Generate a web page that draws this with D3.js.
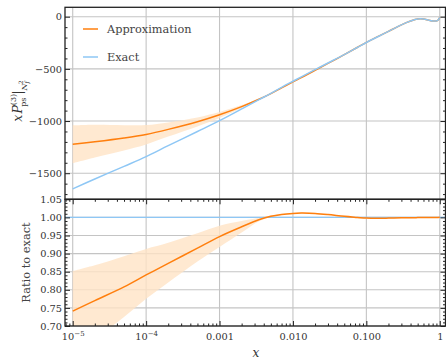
<!DOCTYPE html>
<html>
<head>
<meta charset="utf-8">
<script src="https://cdn.jsdelivr.net/npm/d3@7"></script>
<style>
  body { margin: 0; background: #fff; }
  svg { display: block; }
  svg text { font-family: "DejaVu Serif", serif; }
</style>
</head>
<body>
<div id="chart"></div>
<script>
// x grid of the sampled curves
const xs = [1e-5, 2e-5, 5e-5, 1e-4, 2e-4, 5e-4, 1e-3, 2e-3, 3.5e-3, 5e-3, 7e-3, 0.01, 0.013, 0.02, 0.03,
  0.05, 0.075, 0.1, 0.15, 0.2, 0.3, 0.4, 0.5, 0.6, 0.7, 0.8, 0.9, 0.95, 1];

const exact = [-1650, -1555, -1434, -1341, -1236, -1100, -996, -884, -793, -735, -677, -619, -577, -508, -444,
  -363, -295, -247, -185, -140, -78, -42, -22, -22, -32, -41, -41, -32, -6];
const approx = [-1222, -1198, -1162, -1128, -1080, -1007, -940, -862, -789, -737, -682, -625, -584, -513, -448,
  -364, -295, -246, -184, -140, -78, -42, -22, -22, -32, -41, -41, -32, -6];
const approxLo = [-1405, -1350, -1282, -1224, -1149, -1052, -971, -875, -793, -740, -684, -627, -586, -515, -449,
  -365, -296, -247, -185, -141, -78, -42, -22, -22, -32, -41, -41, -32, -6];
const approxHi = [-1042, -1036, -1040, -1039, -1013, -966, -914, -847, -786, -734, -680, -623, -582, -511, -446,
  -362, -294, -245, -183, -139, -77, -42, -22, -22, -32, -41, -41, -32, -6];

const ratio = [0.741, 0.770, 0.808, 0.841, 0.873, 0.915, 0.947, 0.974, 0.994, 1.003, 1.008, 1.011, 1.012, 1.011, 1.008,
  1.003, 1.000, 0.998, 0.9975, 0.998, 0.999, 0.999, 0.9995, 1.0, 1.0, 1.0, 1.0, 1.0, 1.0005];
const ratioLo = [0.629, 0.665, 0.725, 0.775, 0.820, 0.878, 0.918, 0.958, 0.990, 1.001, 1.0065, 1.0095, 1.0105, 1.0095, 1.0065,
  1.0015, 0.9985, 0.9965, 0.996, 0.9965, 0.9975, 0.9975, 0.998, 0.9985, 0.9985, 0.9985, 0.9985, 0.9985, 0.999];
const ratioHi = [0.852, 0.868, 0.893, 0.913, 0.930, 0.956, 0.977, 0.990, 0.999, 1.005, 1.0095, 1.0125, 1.0135, 1.0125, 1.0095,
  1.0045, 1.0015, 0.9995, 0.999, 0.9995, 1.0005, 1.0005, 1.001, 1.0015, 1.0015, 1.0015, 1.0015, 1.0015, 1.002];

const xTickVals = [1e-5, 1e-4, 1e-3, 1e-2, 1e-1, 1];
const xTickLabels = [["10", "\u22125"], ["10", "\u22124"], ["0.001"], ["0.010"], ["0.100"], ["1"]];
const yTopTicks = [0, -500, -1000, -1500];
const yBotTicks = [0.70, 0.75, 0.80, 0.85, 0.90, 0.95, 1.00, 1.05];

const orange = "#ff7f0e", blue = "#8ec7f5", band = "#ffe3c6";

const W = 446, H = 361;
const L = 65, R = 445.5, T = 7.3, M = 199.3, B = 326;
const serif = "DejaVu Serif";
const tickFont = 9.8;

const svg = d3.select("#chart").append("svg").attr("width", W).attr("height", H);

const x = d3.scaleLog().domain([7.85e-6, 1.197]).range([L, R]);
const yT = d3.scaleLinear().domain([-1750, 90]).range([M, T]);
const yB = d3.scaleLinear().domain([0.70, 1.05]).range([B, M]);

const defs = svg.append("defs");
defs.append("clipPath").attr("id", "clipT").append("rect").attr("x", L).attr("y", T).attr("width", R - L).attr("height", M - T);
defs.append("clipPath").attr("id", "clipB").append("rect").attr("x", L).attr("y", M).attr("width", R - L).attr("height", B - M);

// minor log ticks
const minorX = [];
for (let d = -6; d <= 0; d++) for (let k = 2; k <= 9; k++) {
  const v = k * Math.pow(10, d);
  if (v > x.domain()[0] && v < x.domain()[1]) minorX.push(v);
}

// grid
const grid = svg.append("g").attr("stroke", "#c4c4c4").attr("stroke-width", 1.1);
xTickVals.forEach(v => {
  grid.append("line").attr("x1", x(v)).attr("x2", x(v)).attr("y1", T).attr("y2", B);
});
yTopTicks.forEach(v => {
  grid.append("line").attr("x1", L).attr("x2", R).attr("y1", yT(v)).attr("y2", yT(v));
});
yBotTicks.forEach(v => {
  grid.append("line").attr("x1", L).attr("x2", R).attr("y1", yB(v)).attr("y2", yB(v));
});

const pts = xs.map((d, i) => i);
const curve = d3.curveCatmullRom.alpha(0.5);
const lineOf = (arr, y) => d3.line().x(i => x(xs[i])).y(i => y(arr[i])).curve(curve);
const areaOf = (lo, hi, y) => d3.area().x(i => x(xs[i])).y0(i => y(lo[i])).y1(i => y(hi[i])).curve(curve);

// top panel
const gT = svg.append("g").attr("clip-path", "url(#clipT)");
gT.append("path").datum(pts).attr("d", areaOf(approxLo, approxHi, yT)).attr("fill", band).attr("opacity", 0.8);
gT.append("path").datum(pts).attr("d", lineOf(approx, yT)).attr("fill", "none").attr("stroke", orange).attr("stroke-width", 1.5);
gT.append("path").datum(pts).attr("d", lineOf(exact, yT)).attr("fill", "none").attr("stroke", blue).attr("stroke-width", 1.5);

// bottom panel
const gB = svg.append("g").attr("clip-path", "url(#clipB)");
gB.append("path").datum(pts).attr("d", areaOf(ratioLo, ratioHi, yB)).attr("fill", band).attr("opacity", 0.8);
gB.append("line").attr("x1", L).attr("x2", R).attr("y1", yB(1)).attr("y2", yB(1)).attr("stroke", blue).attr("stroke-width", 1.3);
gB.append("path").datum(pts).attr("d", lineOf(ratio, yB)).attr("fill", "none").attr("stroke", orange).attr("stroke-width", 1.5);

// axes
const tickStyle = g => {
  g.attr("font-family", serif);
  g.select(".domain").remove();
  g.selectAll("line").attr("stroke", "#222").attr("stroke-width", 1);
  g.selectAll("text").attr("font-size", tickFont).attr("fill", "#333");
};

svg.append("g").attr("transform", `translate(${L},0)`)
  .call(d3.axisLeft(yT).tickValues(yTopTicks).tickSize(-5).tickPadding(3)
    .tickFormat(d => d === 0 ? "0" : "\u2212" + Math.abs(d)))
  .call(tickStyle);
svg.append("g").attr("transform", `translate(${L},0)`)
  .call(d3.axisLeft(yT).tickValues(d3.range(-1700, 1, 100).filter(v => v % 500 !== 0)).tickSize(-2.5).tickFormat(""))
  .call(tickStyle);
svg.append("g").attr("transform", `translate(${R},0)`)
  .call(d3.axisRight(yT).tickValues(yTopTicks).tickSize(-5).tickFormat(""))
  .call(tickStyle);
svg.append("g").attr("transform", `translate(${R},0)`)
  .call(d3.axisRight(yT).tickValues(d3.range(-1700, 1, 100).filter(v => v % 500 !== 0)).tickSize(-2.5).tickFormat(""))
  .call(tickStyle);

const botMinor = d3.range(70, 106, 1).map(v => v / 100).filter(v => Math.round(v * 100) % 5 !== 0);
svg.append("g").attr("transform", `translate(${L},0)`)
  .call(d3.axisLeft(yB).tickValues(yBotTicks).tickSize(-5).tickPadding(3).tickFormat(d3.format(".2f")))
  .call(tickStyle);
svg.append("g").attr("transform", `translate(${L},0)`)
  .call(d3.axisLeft(yB).tickValues(botMinor).tickSize(-2.5).tickFormat(""))
  .call(tickStyle);
svg.append("g").attr("transform", `translate(${R},0)`)
  .call(d3.axisRight(yB).tickValues(yBotTicks).tickSize(-5).tickFormat(""))
  .call(tickStyle);
svg.append("g").attr("transform", `translate(${R},0)`)
  .call(d3.axisRight(yB).tickValues(botMinor).tickSize(-2.5).tickFormat(""))
  .call(tickStyle);

// x axis, bottom and top of the ratio panel
const xAx = svg.append("g").attr("transform", `translate(0,${B})`)
  .call(d3.axisBottom(x).tickValues(xTickVals).tickSize(-5).tickPadding(4).tickFormat(""))
  .call(tickStyle);
xAx.selectAll(".tick").append("text")
  .attr("y", 14).attr("text-anchor", "middle")
  .attr("font-size", tickFont).attr("fill", "#333")
  .each(function (d, i) {
    const t = d3.select(this);
    const lab = xTickLabels[i];
    t.append("tspan").text(lab[0]);
    if (lab[1]) t.append("tspan").attr("dy", -4.5).attr("font-size", 7).text(lab[1]);
  });
svg.append("g").attr("transform", `translate(0,${B})`)
  .call(d3.axisBottom(x).tickValues(minorX).tickSize(-2.5).tickFormat(""))
  .call(tickStyle);
svg.append("g").attr("transform", `translate(0,${M})`)
  .call(d3.axisTop(x).tickValues(xTickVals).tickSize(-5).tickFormat(""))
  .call(tickStyle);
svg.append("g").attr("transform", `translate(0,${M})`)
  .call(d3.axisTop(x).tickValues(minorX).tickSize(-2.5).tickFormat(""))
  .call(tickStyle);

// frames
svg.append("rect").attr("x", L).attr("y", T).attr("width", R - L).attr("height", M - T)
  .attr("fill", "none").attr("stroke", "#222").attr("stroke-width", 1.3);
svg.append("rect").attr("x", L).attr("y", M).attr("width", R - L).attr("height", B - M)
  .attr("fill", "none").attr("stroke", "#222").attr("stroke-width", 1.3);

// legend
const legend = [{ name: "Approximation", color: orange }, { name: "Exact", color: blue }];
legend.forEach((d, i) => {
  const ly = 29 + i * 28;
  svg.append("line").attr("x1", 83).attr("x2", 98).attr("y1", ly).attr("y2", ly)
    .attr("stroke", d.color).attr("stroke-width", 1.5);
  svg.append("text").attr("x", 107).attr("y", ly + 4).attr("font-size", 11.3).attr("fill", "#444").text(d.name);
});

// axis titles
svg.append("text").attr("x", 256).attr("y", 357).attr("text-anchor", "middle")
  .attr("font-size", 12).attr("font-style", "italic").attr("fill", "#333").text("x");

svg.append("text").attr("transform", "translate(30,262.5) rotate(-90)").attr("text-anchor", "middle")
  .attr("font-size", 11.4).attr("fill", "#444").text("Ratio to exact");

const yl = svg.append("text").attr("transform", "translate(22,101) rotate(-90)").attr("text-anchor", "middle")
  .attr("font-size", 12.5).attr("fill", "#333");
yl.append("tspan").attr("font-style", "italic").text("x");
yl.append("tspan").attr("font-style", "italic").attr("dx", 1).text("P");
yl.append("tspan").attr("font-size", 8).attr("dy", -6).text("(3)");
yl.append("tspan").attr("font-size", 8).attr("dx", -13).attr("dy", 10).text("ps");
yl.append("tspan").attr("font-size", 12.5).attr("dy", -4).attr("dx", 3).text("|");
yl.append("tspan").attr("font-size", 8).attr("font-style", "italic").attr("dy", 5).text("N");
yl.append("tspan").attr("font-size", 6).attr("font-style", "italic").attr("dy", 2).text("f");
yl.append("tspan").attr("font-size", 6).attr("dx", -3).attr("dy", -6).text("2");
</script>
</body>
</html>
